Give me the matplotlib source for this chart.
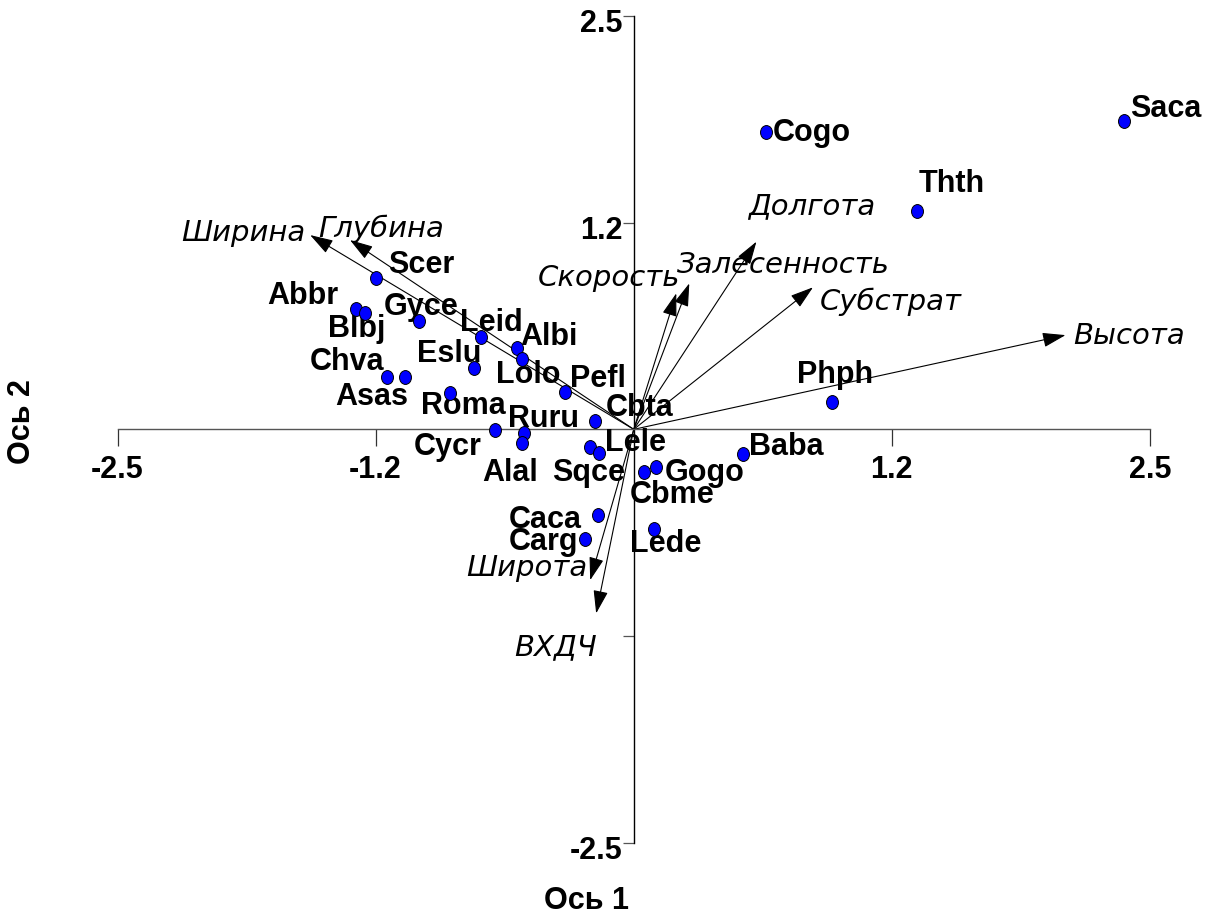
import matplotlib
matplotlib.use("Agg")
import matplotlib.pyplot as plt
from matplotlib.path import Path
from matplotlib.transforms import Affine2D, ScaledTranslation

W, H, DPI = 1210, 917, 100
PX = 72.0 / DPI  # points per pixel

# ---- species scores (axis 1, axis 2) ----
species = ["Saca", "Cogo", "Thth", "Phph", "Baba", "Gogo", "Cbme", "Lede",
           "Caca", "Carg", "Lele", "Sqce", "Cbta", "Cycr", "Ruru", "Alal",
           "Pefl", "Roma", "Albi", "Lolo", "Leid", "Eslu", "Gyce", "Scer",
           "Abbr", "Blbj", "Chva", "Asas"]
sp_x = [2.376, 0.640, 1.372, 0.960, 0.527, 0.108, 0.052, 0.096,
        -0.175, -0.238, -0.211, -0.166, -0.190, -0.674, -0.531, -0.539,
        -0.335, -0.892, -0.566, -0.542, -0.740, -0.773, -1.038, -1.248,
        -1.346, -1.301, -1.196, -1.110]
sp_y = [1.867, 1.800, 1.322, 0.163, -0.149, -0.230, -0.256, -0.603,
        -0.518, -0.665, -0.109, -0.145, 0.050, -0.004, -0.021, -0.085,
        0.228, 0.218, 0.490, 0.423, 0.560, 0.373, 0.655, 0.917,
        0.728, 0.705, 0.318, 0.318]

# ---- environmental variables (biplot arrows) ----
variables = ["Ширина", "Глубина", "Скорость", "Залесенность", "Долгота",
             "Субстрат", "Высота", "Широта", "ВХДЧ"]
var_x = [-1.567, -1.374, 0.206, 0.269, 0.594, 0.868, 2.091, -0.211, -0.182]
var_y = [1.175, 1.145, 0.823, 0.883, 1.135, 0.859, 0.570, -0.912, -1.113]

# ---- axis ticks ----
x_ticks = [-2.5, -1.25, 1.25, 2.5]
x_tick_labels = ["-2.5", "-1.2", "1.2", "2.5"]
y_ticks = [-2.5, -1.25, 1.25, 2.5]
y_tick_labels = ["-2.5", "", "1.2", "2.5"]

# label placement: pixel offset (right, down) from the point to the text's baseline anchor
sp_offsets = {
    "Saca": (6, -4), "Cogo": (7, 9), "Thth": (2, -19), "Phph": (-35, -19),
    "Baba": (6, 1), "Gogo": (9, 14), "Cbme": (-15, 31), "Lede": (-24, 23),
    "Caca": (-89, 13), "Carg": (-76, 11), "Lele": (15, 4), "Sqce": (-47, 28),
    "Cbta": (11, -5), "Cycr": (-81, 25), "Ruru": (-16, -6), "Alal": (-40, 38),
    "Pefl": (5, -5), "Roma": (-29, 21), "Albi": (3, -3), "Lolo": (-26, 24),
    "Leid": (-21, -6), "Eslu": (-57, -6), "Gyce": (-36, -6), "Scer": (12, -5),
    "Abbr": (-89, -5), "Blbj": (-37, 24), "Chva": (-77, -7), "Asas": (-69, 28),
}
var_offsets = {
    "Ширина": (-5, 6, "right"), "Глубина": (-32, -3, "left"),
    "Скорость": (4, -7, "right"), "Залесенность": (-12, -10, "left"),
    "Долгота": (-8, -28, "left"), "Субстрат": (7, 23, "left"),
    "Высота": (8, 9, "left"), "Широта": (-3, -4, "right"),
    "ВХДЧ": (1, 42, "right"),
}

BOLD = dict(family=["Liberation Sans", "DejaVu Sans"], fontweight="bold", fontsize=22)
ITAL = dict(family=["DejaVu Sans"], style="oblique", fontsize=21)

fig = plt.figure(figsize=(W / DPI, H / DPI), dpi=DPI)
fig.patch.set_facecolor("white")
left_px, right_px, top_px, bottom_px = 117.5, 1150.0, 16.0, 842.7
ax = fig.add_axes([left_px / W, 1 - bottom_px / H,
                   (right_px - left_px) / W, (bottom_px - top_px) / H])
ax.set_xlim(-2.5, 2.5)
ax.set_ylim(-2.5, 2.5)
ax.patch.set_alpha(0)

for side in ("top", "right"):
    ax.spines[side].set_visible(False)
ax.spines["left"].set_position(("data", 0))
ax.spines["bottom"].set_position(("data", 0))
ax.spines["left"].set_color("black")
ax.spines["bottom"].set_color("#555555")
ax.spines["left"].set_linewidth(1.0)
ax.spines["bottom"].set_linewidth(1.0)

ax.set_xticks(x_ticks, x_tick_labels)
ax.set_yticks(y_ticks, y_tick_labels)
ax.tick_params(axis="x", direction="out", length=12.2, width=0.9,
               color="#333333", pad=6)
ax.tick_params(axis="y", direction="out", length=8, width=0.9,
               color="#555555", pad=0)
for lbl in ax.get_xticklabels() + ax.get_yticklabels():
    lbl.set_fontfamily(BOLD["family"])
    lbl.set_fontweight("bold")
    lbl.set_fontsize(BOLD["fontsize"])
shift = ScaledTranslation(0, -5 / DPI, fig.dpi_scale_trans)
for lbl in ax.get_yticklabels():
    lbl.set_transform(lbl.get_transform() + shift)

# biplot arrows
for name, vx, vy in zip(variables, var_x, var_y):
    ax.annotate("", xy=(vx, vy), xytext=(0, 0),
                arrowprops=dict(arrowstyle="-|>,head_length=1.1,head_width=0.35",
                                mutation_scale=13, color="black", lw=0.8,
                                shrinkA=0, shrinkB=0), zorder=2)
    dx, dy, ha = var_offsets[name]
    ax.annotate(name, xy=(vx, vy), xytext=(dx * PX, -dy * PX),
                textcoords="offset points", ha=ha, va="baseline",
                color="black", zorder=2, **ITAL)

# species points (slightly tall ellipses)
ellipse = Affine2D().scale(0.86, 1.0).transform_path(Path.unit_circle())
ax.scatter(sp_x, sp_y, s=100, marker=ellipse, c="#0000ff",
           edgecolors="black", linewidths=0.7, zorder=4, clip_on=False)

for name, sx, sy in zip(species, sp_x, sp_y):
    dx, dy = sp_offsets[name]
    ax.annotate(name, xy=(sx, sy), xytext=(dx * PX, -dy * PX),
                textcoords="offset points", ha="left", va="baseline",
                color="black", zorder=3, **BOLD)

# axis titles
fig.text(587 / W, 1 - 909 / H, "Ось 1", ha="center", va="baseline", **BOLD)
fig.text(22 / W, 1 - 422 / H, "Ось 2", ha="center", va="center",
         rotation=90, **BOLD)

fig.savefig("out.png", dpi=DPI, facecolor="white")
